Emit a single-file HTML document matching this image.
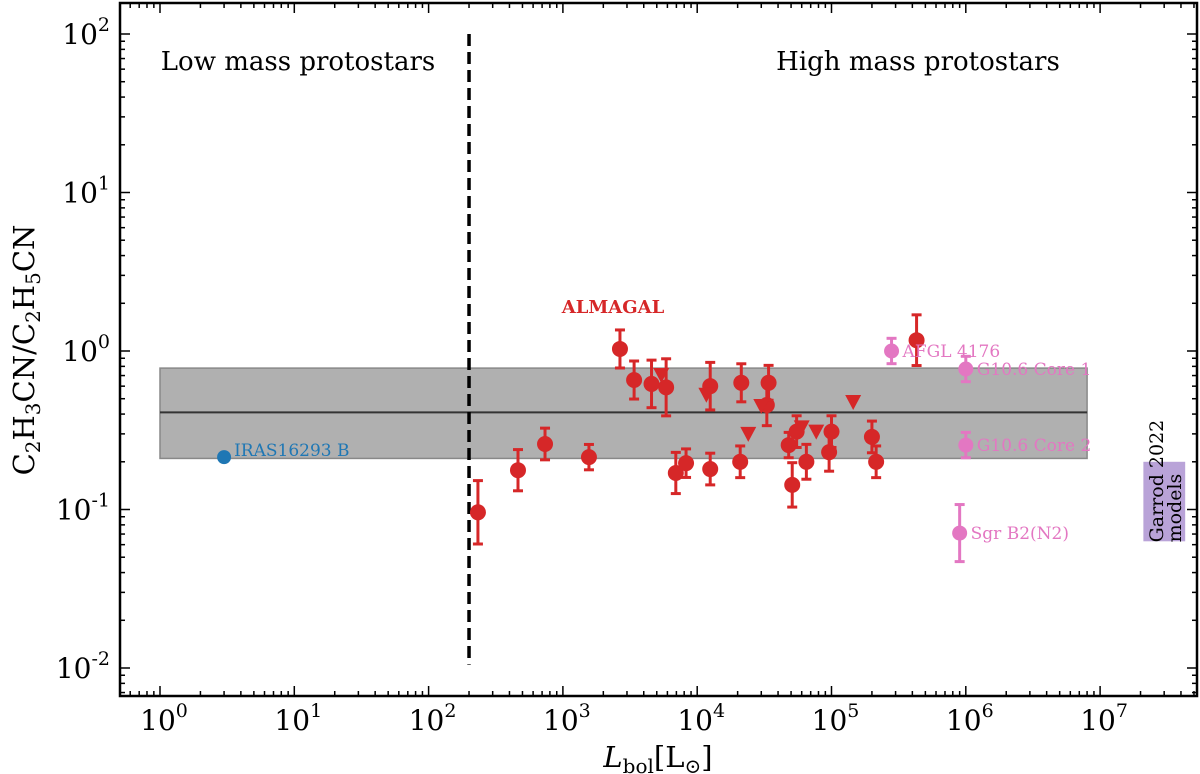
<!DOCTYPE html>
<html><head><meta charset="utf-8"><style>body{margin:0;background:#fff}svg{display:block}text{font-family:"DejaVu Serif","Liberation Serif",serif}</style></head>
<body>
<svg id="c" width="1200" height="774"></svg>
<script>
const redL=[233,463,736,1563,2660,3390,4570,5870,6930,8260,12500,2.13e4,1.25e4,2.09e4,3.3e4,3.4e4,4.8e4,5.1e4,5.5e4,6.5e4,9.6e4,1.0e5,2.0e5,2.15e5,4.3e5];
const redR=[0.096,0.177,0.259,0.214,1.03,0.656,0.62,0.59,0.17,0.196,0.60,0.63,0.18,0.20,0.456,0.63,0.255,0.143,0.31,0.20,0.23,0.31,0.287,0.20,1.17];
const redErr=[0.2,0.13,0.1,0.08,0.12,0.12,0.15,0.18,0.13,0.09,0.15,0.12,0.1,0.1,0.13,0.11,0.08,0.14,0.1,0.11,0.12,0.1,0.1,0.1,0.16];
const triL=[5400,1.17e4,2.4e4,3.0e4,6.0e4,7.7e4,1.45e5];
const triR=[0.705,0.53,0.30,0.45,0.33,0.31,0.477];
const pinkL=[2.8e5,1e6,1e6,9e5];
const pinkR=[1.0,0.77,0.255,0.071];
const pinkErr=[0.08,0.08,0.08,0.18];
const pinkNames=["AFGL 4176","G10.6 Core 1","G10.6 Core 2","Sgr B2(N2)"];
const blueL=[3];const blueR=[0.214];
const bandLo=0.21,bandHi=0.78,bandMed=0.41;
const xTicks=[0,1,2,3,4,5,6,7];const yTicks=[-2,-1,0,1,2];

const L=120,R=1197,T=3,B=696;
const X=v=>160+Math.log10(v)*134.3;
const Y=v=>351-Math.log10(v)*158.5;
const s=document.getElementById('c');const NS="http://www.w3.org/2000/svg";
function el(t,a,p){const e=document.createElementNS(NS,t);for(const k in a)e.setAttribute(k,a[k]);(p||s).appendChild(e);return e;}
let e;
e=el('rect',{x:X(1),y:Y(bandHi),width:X(8e6)-X(1),height:Y(bandLo)-Y(bandHi),fill:'#b0b0b0',stroke:'#888','stroke-width':1.5});

e=el('line',{x1:X(1),x2:X(8e6),y1:Y(bandMed),y2:Y(bandMed),stroke:'#333','stroke-width':2});

e=el('line',{x1:X(200),x2:X(200),y1:Y(100),y2:Y(0.0105),stroke:'#000','stroke-width':3.5,'stroke-dasharray':'12,6'});

e=el('rect',{x:X(2.1e7),y:Y(0.2),width:X(4.3e7)-X(2.1e7),height:Y(0.063)-Y(0.2),fill:'#b9a3d8'});

e=el('text',{x:0,y:0,'font-size':19,transform:`translate(${X(2.4e7)+12},${Y(0.062)}) rotate(-90)`});e.textContent='Garrod 2022';

e=el('text',{x:0,y:0,'font-size':19,transform:`translate(${X(2.4e7)+30},${Y(0.062)}) rotate(-90)`});e.textContent='models';

function eb(x,r,d,c,n){
 const y1=Y(r*Math.pow(10,d)),y2=Y(r/Math.pow(10,d));
 const g=el('g',{stroke:c,'stroke-width':3});
 
 el('line',{x1:X(x),x2:X(x),y1:y1,y2:y2},g);
 el('line',{x1:X(x)-5,x2:X(x)+5,y1:y1,y2:y1},g);
 el('line',{x1:X(x)-5,x2:X(x)+5,y1:y2,y2:y2},g);
}
redL.forEach((l,i)=>{eb(l,redR[i],redErr[i],'#d62728','red-errorbar');
 e=el('circle',{cx:X(l),cy:Y(redR[i]),r:8,fill:'#d62728'});
 });
triL.forEach((l,i)=>{const x=X(l),y=Y(triR[i]);
 e=el('polygon',{points:`${x-8},${y-7} ${x+8},${y-7} ${x},${y+8}`,fill:'#d62728'});
 });
pinkL.forEach((l,i)=>{eb(l,pinkR[i],pinkErr[i],'#e377c2','pink-errorbar');
 e=el('circle',{cx:X(l),cy:Y(pinkR[i]),r:7.5,fill:'#e377c2'});
 
 e=el('text',{x:X(l)+11,y:Y(pinkR[i])+6,'font-size':17,fill:'#e377c2'});e.textContent=pinkNames[i];
 });
blueL.forEach((l,i)=>{e=el('circle',{cx:X(l),cy:Y(blueR[i]),r:7,fill:'#1f77b4'});
 
 e=el('text',{x:X(l)+10,y:Y(blueR[i])-1,'font-size':17,fill:'#1f77b4'});e.textContent='IRAS16293 B';
 });
e=el('text',{x:613,y:313,'font-size':18,'font-weight':'bold',fill:'#d62728','text-anchor':'middle'});e.textContent='ALMAGAL';

e=el('text',{x:298,y:70,'font-size':26,'text-anchor':'middle'});e.textContent='Low mass protostars';

e=el('text',{x:918,y:70,'font-size':26,'text-anchor':'middle'});e.textContent='High mass protostars';

e=el('rect',{x:L,y:T,width:R-L,height:B-T,fill:'none',stroke:'#000','stroke-width':2.5});

const tg=el('g',{stroke:'#000','stroke-width':1.5});

for(let d=-1;d<=8;d++)for(let m=1;m<10;m++){const x=X(m*Math.pow(10,d));if(x<L||x>R)continue;const len=m==1?10:5;
 el('line',{x1:x,x2:x,y1:B,y2:B-len},tg);el('line',{x1:x,x2:x,y1:T,y2:T+len},tg);}
for(let d=-3;d<=2;d++)for(let m=1;m<10;m++){const y=Y(m*Math.pow(10,d));if(y<T||y>B)continue;const len=m==1?10:5;
 el('line',{x1:L,x2:L+len,y1:y,y2:y},tg);el('line',{x1:R,x2:R-len,y1:y,y2:y},tg);}
xTicks.forEach(k=>{e=el('text',{x:X(Math.pow(10,k))+4,y:730,'font-size':28,'text-anchor':'middle'});
 e.innerHTML=`10<tspan dy="-13" font-size="19">${k}</tspan>`;
 });
yTicks.forEach(k=>{e=el('text',{x:110,y:Y(Math.pow(10,k))+10,'font-size':28,'text-anchor':'end'});
 e.innerHTML=`10<tspan dy="-13" font-size="19">${k}</tspan>`;
 });
e=el('text',{x:658,y:767,'font-size':29,'text-anchor':'middle'});
e.innerHTML='<tspan font-style="italic">L</tspan><tspan font-size="20" dy="6">bol</tspan><tspan dy="-6">[L</tspan><tspan font-size="20" dy="6">⊙</tspan><tspan dy="-6">]</tspan>';

e=el('text',{x:0,y:0,'font-size':29,'text-anchor':'middle',transform:'translate(34,350) rotate(-90)'});
e.innerHTML='C<tspan font-size="20" dy="6">2</tspan><tspan dy="-6">H</tspan><tspan font-size="20" dy="6">3</tspan><tspan dy="-6">CN/C</tspan><tspan font-size="20" dy="6">2</tspan><tspan dy="-6">H</tspan><tspan font-size="20" dy="6">5</tspan><tspan dy="-6">CN</tspan>';

</script>
</body></html>
